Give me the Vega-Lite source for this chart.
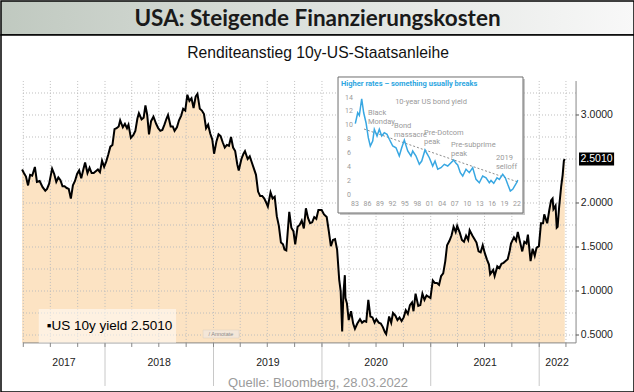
{
  "$schema": "https://vega.github.io/schema/vega-lite/v6.json",
  "padding": 0,
  "spacing": 0,
  "bounds": "flush",
  "background": "white",
  "config": {"view": {"stroke": null}, "font": "Liberation Sans"},
  "datasets": {
    "yield": [
      {"date":"2017-03-28","value":2.38},{"date":"2017-04-03","value":2.34},{"date":"2017-04-10","value":2.30},{"date":"2017-04-17","value":2.20},{"date":"2017-04-24","value":2.32},{"date":"2017-05-01","value":2.31},{"date":"2017-05-10","value":2.41},{"date":"2017-05-17","value":2.24},{"date":"2017-05-26","value":2.25},{"date":"2017-06-05","value":2.18},{"date":"2017-06-14","value":2.14},{"date":"2017-06-20","value":2.16},{"date":"2017-06-27","value":2.22},{"date":"2017-07-07","value":2.39},{"date":"2017-07-14","value":2.33},{"date":"2017-07-21","value":2.24},{"date":"2017-07-28","value":2.29},{"date":"2017-08-04","value":2.26},{"date":"2017-08-11","value":2.19},{"date":"2017-08-18","value":2.19},{"date":"2017-08-25","value":2.17},{"date":"2017-09-01","value":2.16},{"date":"2017-09-08","value":2.05},{"date":"2017-09-15","value":2.20},{"date":"2017-09-22","value":2.25},{"date":"2017-09-29","value":2.33},{"date":"2017-10-06","value":2.37},{"date":"2017-10-13","value":2.28},{"date":"2017-10-20","value":2.38},{"date":"2017-10-26","value":2.46},{"date":"2017-11-03","value":2.34},{"date":"2017-11-10","value":2.40},{"date":"2017-11-17","value":2.34},{"date":"2017-11-24","value":2.34},{"date":"2017-12-01","value":2.36},{"date":"2017-12-08","value":2.38},{"date":"2017-12-15","value":2.35},{"date":"2017-12-22","value":2.48},{"date":"2017-12-29","value":2.41},
      {"date":"2018-01-05","value":2.47},{"date":"2018-01-12","value":2.55},{"date":"2018-01-19","value":2.64},{"date":"2018-01-26","value":2.66},{"date":"2018-02-02","value":2.84},{"date":"2018-02-09","value":2.85},{"date":"2018-02-16","value":2.87},{"date":"2018-02-21","value":2.94},{"date":"2018-03-02","value":2.86},{"date":"2018-03-09","value":2.90},{"date":"2018-03-16","value":2.85},{"date":"2018-03-21","value":2.89},{"date":"2018-03-29","value":2.74},{"date":"2018-04-06","value":2.77},{"date":"2018-04-13","value":2.82},{"date":"2018-04-20","value":2.96},{"date":"2018-04-25","value":3.02},{"date":"2018-05-04","value":2.95},{"date":"2018-05-11","value":2.97},{"date":"2018-05-17","value":3.11},{"date":"2018-05-23","value":3.00},{"date":"2018-05-29","value":2.78},{"date":"2018-06-05","value":2.93},{"date":"2018-06-13","value":2.98},{"date":"2018-06-22","value":2.90},{"date":"2018-06-29","value":2.85},{"date":"2018-07-06","value":2.82},{"date":"2018-07-13","value":2.83},{"date":"2018-07-20","value":2.89},{"date":"2018-07-27","value":2.96},{"date":"2018-08-01","value":3.00},{"date":"2018-08-10","value":2.87},{"date":"2018-08-17","value":2.87},{"date":"2018-08-23","value":2.82},{"date":"2018-08-31","value":2.86},{"date":"2018-09-07","value":2.94},{"date":"2018-09-14","value":2.99},{"date":"2018-09-21","value":3.07},{"date":"2018-09-28","value":3.05},{"date":"2018-10-05","value":3.23},{"date":"2018-10-12","value":3.16},{"date":"2018-10-19","value":3.19},{"date":"2018-10-26","value":3.08},{"date":"2018-11-02","value":3.21},{"date":"2018-11-08","value":3.24},{"date":"2018-11-16","value":3.07},{"date":"2018-11-23","value":3.05},{"date":"2018-11-30","value":3.01},{"date":"2018-12-07","value":2.85},{"date":"2018-12-14","value":2.89},{"date":"2018-12-21","value":2.79},{"date":"2018-12-28","value":2.72},
      {"date":"2019-01-03","value":2.56},{"date":"2019-01-11","value":2.70},{"date":"2019-01-18","value":2.78},{"date":"2019-01-25","value":2.76},{"date":"2019-02-01","value":2.69},{"date":"2019-02-08","value":2.63},{"date":"2019-02-15","value":2.66},{"date":"2019-02-22","value":2.65},{"date":"2019-03-01","value":2.75},{"date":"2019-03-08","value":2.63},{"date":"2019-03-15","value":2.59},{"date":"2019-03-22","value":2.44},{"date":"2019-03-27","value":2.37},{"date":"2019-04-05","value":2.50},{"date":"2019-04-12","value":2.56},{"date":"2019-04-17","value":2.59},{"date":"2019-04-26","value":2.50},{"date":"2019-05-03","value":2.53},{"date":"2019-05-10","value":2.46},{"date":"2019-05-17","value":2.39},{"date":"2019-05-24","value":2.32},{"date":"2019-05-31","value":2.13},{"date":"2019-06-07","value":2.08},{"date":"2019-06-14","value":2.08},{"date":"2019-06-21","value":2.05},{"date":"2019-06-28","value":2.00},{"date":"2019-07-03","value":1.96},{"date":"2019-07-12","value":2.12},{"date":"2019-07-19","value":2.05},{"date":"2019-07-26","value":2.07},{"date":"2019-08-02","value":1.85},{"date":"2019-08-09","value":1.74},{"date":"2019-08-16","value":1.55},{"date":"2019-08-23","value":1.53},{"date":"2019-08-28","value":1.47},{"date":"2019-09-03","value":1.46},{"date":"2019-09-13","value":1.90},{"date":"2019-09-20","value":1.72},{"date":"2019-09-27","value":1.68},{"date":"2019-10-03","value":1.53},{"date":"2019-10-11","value":1.73},{"date":"2019-10-18","value":1.75},{"date":"2019-10-25","value":1.80},{"date":"2019-11-01","value":1.71},{"date":"2019-11-08","value":1.94},{"date":"2019-11-15","value":1.83},{"date":"2019-11-22","value":1.77},{"date":"2019-11-29","value":1.78},{"date":"2019-12-06","value":1.84},{"date":"2019-12-13","value":1.82},{"date":"2019-12-20","value":1.92},{"date":"2019-12-31","value":1.92},
      {"date":"2020-01-08","value":1.87},{"date":"2020-01-17","value":1.84},{"date":"2020-01-24","value":1.68},{"date":"2020-01-31","value":1.51},{"date":"2020-02-07","value":1.58},{"date":"2020-02-14","value":1.59},{"date":"2020-02-21","value":1.47},{"date":"2020-02-28","value":1.13},{"date":"2020-03-04","value":1.00},{"date":"2020-03-09","value":0.54},{"date":"2020-03-13","value":0.96},{"date":"2020-03-18","value":1.18},{"date":"2020-03-20","value":0.92},{"date":"2020-03-25","value":0.86},{"date":"2020-03-31","value":0.67},{"date":"2020-04-08","value":0.77},{"date":"2020-04-15","value":0.63},{"date":"2020-04-21","value":0.57},{"date":"2020-04-29","value":0.63},{"date":"2020-05-08","value":0.68},{"date":"2020-05-15","value":0.64},{"date":"2020-05-22","value":0.66},{"date":"2020-05-29","value":0.65},{"date":"2020-06-05","value":0.90},{"date":"2020-06-12","value":0.71},{"date":"2020-06-19","value":0.70},{"date":"2020-06-26","value":0.64},{"date":"2020-07-02","value":0.68},{"date":"2020-07-10","value":0.64},{"date":"2020-07-17","value":0.63},{"date":"2020-07-24","value":0.59},{"date":"2020-07-31","value":0.53},{"date":"2020-08-04","value":0.51},{"date":"2020-08-14","value":0.71},{"date":"2020-08-21","value":0.64},{"date":"2020-08-27","value":0.75},{"date":"2020-09-04","value":0.72},{"date":"2020-09-11","value":0.67},{"date":"2020-09-18","value":0.70},{"date":"2020-09-25","value":0.66},{"date":"2020-10-02","value":0.70},{"date":"2020-10-09","value":0.78},{"date":"2020-10-16","value":0.74},{"date":"2020-10-23","value":0.84},{"date":"2020-10-30","value":0.87},{"date":"2020-11-04","value":0.77},{"date":"2020-11-11","value":0.97},{"date":"2020-11-20","value":0.83},{"date":"2020-11-27","value":0.84},{"date":"2020-12-04","value":0.97},{"date":"2020-12-11","value":0.90},{"date":"2020-12-18","value":0.95},{"date":"2020-12-31","value":0.92},
      {"date":"2021-01-08","value":1.12},{"date":"2021-01-15","value":1.09},{"date":"2021-01-22","value":1.09},{"date":"2021-01-29","value":1.07},{"date":"2021-02-05","value":1.17},{"date":"2021-02-12","value":1.20},{"date":"2021-02-19","value":1.34},{"date":"2021-02-25","value":1.52},{"date":"2021-03-05","value":1.57},{"date":"2021-03-12","value":1.63},{"date":"2021-03-19","value":1.73},{"date":"2021-03-26","value":1.67},{"date":"2021-03-31","value":1.74},{"date":"2021-04-09","value":1.66},{"date":"2021-04-16","value":1.58},{"date":"2021-04-23","value":1.56},{"date":"2021-04-30","value":1.63},{"date":"2021-05-07","value":1.58},{"date":"2021-05-12","value":1.69},{"date":"2021-05-21","value":1.63},{"date":"2021-05-28","value":1.59},{"date":"2021-06-04","value":1.55},{"date":"2021-06-11","value":1.45},{"date":"2021-06-18","value":1.44},{"date":"2021-06-25","value":1.52},{"date":"2021-07-02","value":1.43},{"date":"2021-07-09","value":1.36},{"date":"2021-07-16","value":1.30},{"date":"2021-07-20","value":1.19},{"date":"2021-07-30","value":1.24},{"date":"2021-08-04","value":1.17},{"date":"2021-08-13","value":1.28},{"date":"2021-08-20","value":1.26},{"date":"2021-08-27","value":1.31},{"date":"2021-09-03","value":1.32},{"date":"2021-09-10","value":1.34},{"date":"2021-09-17","value":1.36},{"date":"2021-09-24","value":1.46},{"date":"2021-09-28","value":1.54},{"date":"2021-10-08","value":1.61},{"date":"2021-10-15","value":1.57},{"date":"2021-10-21","value":1.67},{"date":"2021-10-29","value":1.55},{"date":"2021-11-05","value":1.45},{"date":"2021-11-12","value":1.56},{"date":"2021-11-19","value":1.54},{"date":"2021-11-24","value":1.64},{"date":"2021-12-03","value":1.34},{"date":"2021-12-10","value":1.48},{"date":"2021-12-17","value":1.40},{"date":"2021-12-23","value":1.49},{"date":"2021-12-31","value":1.51},
      {"date":"2022-01-07","value":1.77},{"date":"2022-01-14","value":1.77},{"date":"2022-01-18","value":1.87},{"date":"2022-01-28","value":1.77},{"date":"2022-02-04","value":1.92},{"date":"2022-02-10","value":2.03},{"date":"2022-02-15","value":2.05},{"date":"2022-02-18","value":1.93},{"date":"2022-02-25","value":1.97},{"date":"2022-03-01","value":1.72},{"date":"2022-03-04","value":1.73},{"date":"2022-03-09","value":1.95},{"date":"2022-03-16","value":2.19},{"date":"2022-03-21","value":2.32},{"date":"2022-03-25","value":2.48},{"date":"2022-03-28","value":2.50}
    ],
    "quarters": [
      {"date":"2017-04-01"},{"date":"2017-07-01"},{"date":"2017-10-01"},{"date":"2018-01-01"},{"date":"2018-04-01"},{"date":"2018-07-01"},{"date":"2018-10-01"},{"date":"2019-01-01"},{"date":"2019-04-01"},{"date":"2019-07-01"},{"date":"2019-10-01"},{"date":"2020-01-01"},{"date":"2020-04-01"},{"date":"2020-07-01"},{"date":"2020-10-01"},{"date":"2021-01-01"},{"date":"2021-04-01"},{"date":"2021-07-01"},{"date":"2021-10-01"},{"date":"2022-01-01"},{"date":"2022-04-01"}
    ],
    "years": [{"date":"2018-01-01"},{"date":"2019-01-01"},{"date":"2020-01-01"},{"date":"2021-01-01"},{"date":"2022-01-01"}],
    "yearlabels": [{"date":"2017-08-16"},{"date":"2018-07-02"},{"date":"2019-07-03"},{"date":"2020-07-01"},{"date":"2021-07-03"},{"date":"2022-03-02"}],
    "levels": [{"level":0.5},{"level":0.75},{"level":1.0},{"level":1.25},{"level":1.5},{"level":1.75},{"level":2.0},{"level":2.25},{"level":2.5},{"level":2.75},{"level":3.0},{"level":3.25}],
    "yticks": [{"level":0.5},{"level":1.0},{"level":1.5},{"level":2.0},{"level":3.0}],
    "inset": [
      {"yr":1983.07,"v":10.22},{"yr":1983.65,"v":11.8},{"yr":1984.04,"v":11.43},{"yr":1984.61,"v":13.82},{"yr":1985.09,"v":11.8},{"yr":1985.65,"v":10.36},{"yr":1986.2,"v":8.2},{"yr":1986.68,"v":7.0},{"yr":1987.26,"v":7.72},{"yr":1987.65,"v":9.41},{"yr":1988.3,"v":8.44},{"yr":1988.85,"v":9.41},{"yr":1989.43,"v":8.44},{"yr":1990.05,"v":8.92},{"yr":1990.7,"v":8.69},{"yr":1991.26,"v":7.97},{"yr":1992.08,"v":7.0},{"yr":1992.87,"v":6.75},{"yr":1993.66,"v":5.56},{"yr":1994.24,"v":6.75},{"yr":1994.87,"v":7.86},{"yr":1995.69,"v":6.28},{"yr":1996.48,"v":5.56},{"yr":1996.89,"v":6.28},{"yr":1997.68,"v":5.56},{"yr":1998.48,"v":4.36},{"yr":1999.06,"v":4.83},{"yr":1999.85,"v":6.42},{"yr":2000.89,"v":5.31},{"yr":2001.7,"v":4.11},{"yr":2002.26,"v":4.83},{"yr":2002.91,"v":3.64},{"yr":2003.7,"v":3.87},{"yr":2004.5,"v":4.36},{"yr":2005.32,"v":4.11},{"yr":2006.11,"v":4.59},{"yr":2006.76,"v":4.98},{"yr":2007.31,"v":4.5},{"yr":2007.72,"v":4.26},{"yr":2008.35,"v":3.15},{"yr":2008.93,"v":2.67},{"yr":2009.72,"v":3.64},{"yr":2010.52,"v":3.15},{"yr":2011.33,"v":3.87},{"yr":2012.13,"v":2.19},{"yr":2012.92,"v":1.7},{"yr":2013.74,"v":2.67},{"yr":2014.54,"v":2.42},{"yr":2015.33,"v":1.7},{"yr":2015.74,"v":2.02},{"yr":2016.39,"v":1.62},{"yr":2017.18,"v":2.42},{"yr":2017.74,"v":2.19},{"yr":2018.56,"v":2.91},{"yr":2019.18,"v":2.42},{"yr":2019.76,"v":1.47},{"yr":2020.39,"v":0.51},{"yr":2020.96,"v":0.75},{"yr":2021.52,"v":1.33},{"yr":2022.0,"v":1.8},{"yr":2022.17,"v":2.09}
    ],
    "trend": [{"yr":1985.17,"v":9.45},{"yr":2022.24,"v":1.8}],
    "notes": [
      {"yr":1986.13,"v":11.76,"label":"Black\nMonday"},
      {"yr":1992.39,"v":9.88,"label":"Bond\nmassacre"},
      {"yr":1999.61,"v":8.87,"label":"Pre-Dotcom\npeak"},
      {"yr":2006.11,"v":7.14,"label":"Pre-subprime\npeak"},
      {"yr":2016.94,"v":5.27,"label":"2019\nselloff"}
    ],
    "iy": [{"v":0},{"v":2},{"v":4},{"v":6},{"v":8},{"v":10},{"v":12},{"v":14}],
    "ix": [{"yr":1983,"label":"83"},{"yr":1986,"label":"86"},{"yr":1989,"label":"89"},{"yr":1992,"label":"92"},{"yr":1995,"label":"95"},{"yr":1998,"label":"98"},{"yr":2001,"label":"01"},{"yr":2004,"label":"04"},{"yr":2007,"label":"07"},{"yr":2010,"label":"10"},{"yr":2013,"label":"13"},{"yr":2016,"label":"16"},{"yr":2019,"label":"19"},{"yr":2022,"label":"22"}]
  },
  "vconcat": [
    {
      "width": 633,
      "height": 34,
      "layer": [
        {
          "data": {"values": [{}]},
          "mark": {"type": "rect", "fill": {"gradient": "linear", "stops": [{"offset": 0, "color": "#c0c9c0"}, {"offset": 0.5, "color": "#dde1dd"}, {"offset": 1, "color": "#f8f8f8"}]}, "stroke": "#000", "strokeWidth": 1.5},
          "encoding": {}
        },
        {
          "data": {"values": [{"t": "USA: Steigende Finanzierungskosten"}]},
          "mark": {"type": "text", "font": "Lato", "fontWeight": "bold", "fontSize": 22.5, "color": "#1a1a1a", "dy": 1},
          "encoding": {"text": {"field": "t"}}
        }
      ]
    },
    {
      "width": 633,
      "height": 357,
      "view": {"stroke": "#000", "strokeWidth": 1.5, "fill": "white"},
      "resolve": {"scale": {"x": "independent", "y": "independent"}},
      "layer": [
        {
          "layer": [
            {
              "data": {"name": "yield"},
              "mark": {"type": "area", "color": "#fce3c3", "opacity": 1},
              "encoding": {
                "x": {"field": "date", "type": "temporal",
                  "scale": {"domain": [{"year": 2017, "month": 1, "date": 16}, {"year": 2022, "month": 11, "date": 16}], "nice": false},
                  "axis": null},
                "y": {"field": "value", "type": "quantitative",
                  "scale": {"domain": [-0.1477, 3.909], "nice": false, "zero": false},
                  "axis": null},
                "y2": {"datum": 0.41}
              }
            },
            {
              "data": {"name": "quarters"},
              "mark": {"type": "rule", "color": "#bdbdbd", "strokeDash": [1, 2], "strokeWidth": 1},
              "encoding": {"x": {"field": "date", "type": "temporal", "axis": null}, "y": {"datum": 0.41, "type": "quantitative", "axis": null}, "y2": {"datum": 3.386}}
            },
            {
              "data": {"name": "levels"},
              "mark": {"type": "rule", "color": "#bdbdbd", "strokeDash": [1, 2], "strokeWidth": 1},
              "encoding": {"y": {"field": "level", "type": "quantitative", "axis": null}, "x": {"datum": {"year": 2017, "month": 3, "date": 31}, "type": "temporal", "axis": null}, "x2": {"datum": {"year": 2022, "month": 5, "date": 5}}}
            },
            {
              "data": {"name": "yield"},
              "mark": {"type": "line", "color": "#000", "strokeWidth": 2},
              "encoding": {"x": {"field": "date", "type": "temporal", "axis": null}, "y": {"field": "value", "type": "quantitative", "axis": null}}
            },
            {
              "data": {"values": [{}]},
              "mark": {"type": "rule", "color": "#888", "strokeWidth": 1},
              "encoding": {"x": {"datum": {"year": 2022, "month": 5, "date": 5}, "type": "temporal", "axis": null}, "y": {"datum": 0.41, "type": "quantitative", "axis": null}, "y2": {"datum": 3.386}}
            },
            {
              "data": {"values": [{}]},
              "mark": {"type": "rule", "color": "#888", "strokeWidth": 1},
              "encoding": {"y": {"datum": 0.41, "type": "quantitative", "axis": null}, "x": {"datum": {"year": 2017, "month": 3, "date": 31}, "type": "temporal", "axis": null}, "x2": {"datum": {"year": 2022, "month": 5, "date": 5}}}
            },
            {
              "data": {"name": "yticks"},
              "mark": {"type": "rule", "color": "#555", "strokeWidth": 1},
              "encoding": {"y": {"field": "level", "type": "quantitative", "axis": null}, "x": {"datum": {"year": 2022, "month": 5, "date": 5}, "type": "temporal", "axis": null}, "x2": {"datum": {"year": 2022, "month": 5, "date": 15}}}
            },
            {
              "data": {"name": "yticks"},
              "mark": {"type": "text", "align": "left", "baseline": "middle", "fontSize": 10.5, "color": "#222"},
              "encoding": {"y": {"field": "level", "type": "quantitative", "axis": null}, "x": {"datum": {"year": 2022, "month": 5, "date": 21}, "type": "temporal", "axis": null}, "text": {"field": "level", "type": "quantitative", "format": ".4f"}}
            },
            {
              "data": {"name": "years"},
              "mark": {"type": "rule", "color": "#c8c8c8", "strokeWidth": 1},
              "encoding": {"x": {"field": "date", "type": "temporal", "axis": null}, "y": {"datum": 0.41, "type": "quantitative", "axis": null}, "y2": {"datum": -0.0795}}
            },
            {
              "data": {"name": "quarters"},
              "mark": {"type": "rule", "color": "#888", "strokeWidth": 1},
              "encoding": {"x": {"field": "date", "type": "temporal", "axis": null}, "y": {"datum": 0.41, "type": "quantitative", "axis": null}, "y2": {"datum": 0.364}}
            },
            {
              "data": {"name": "yearlabels"},
              "mark": {"type": "text", "baseline": "middle", "fontSize": 10.5, "color": "#222"},
              "encoding": {"x": {"field": "date", "type": "temporal", "axis": null}, "y": {"datum": 0.182, "type": "quantitative", "axis": null}, "text": {"field": "date", "type": "temporal", "format": "%Y"}}
            },
            {
              "data": {"values": [{"label": "Quelle: Bloomberg, 28.03.2022"}]},
              "mark": {"type": "text", "baseline": "middle", "fontSize": 13, "color": "#9b9b9b"},
              "encoding": {"x": {"datum": {"year": 2019, "month": 12, "date": 19}, "type": "temporal", "axis": null}, "y": {"datum": -0.0455, "type": "quantitative", "axis": null}, "text": {"field": "label"}}
            },
            {
              "data": {"values": [{}]},
              "mark": {"type": "rect", "color": "#ffffff", "opacity": 0.5},
              "encoding": {"x": {"datum": {"year": 2017, "month": 5, "date": 23}, "type": "temporal", "axis": null}, "x2": {"datum": {"year": 2018, "month": 8, "date": 28}}, "y": {"datum": 0.41, "type": "quantitative", "axis": null}, "y2": {"datum": 0.795}}
            },
            {
              "data": {"values": [{"label": "▪US 10y yield 2.5010"}]},
              "mark": {"type": "text", "align": "left", "baseline": "middle", "fontSize": 13.5, "color": "#000"},
              "encoding": {"x": {"datum": {"year": 2017, "month": 6, "date": 19}, "type": "temporal", "axis": null}, "y": {"datum": 0.602, "type": "quantitative", "axis": null}, "text": {"field": "label"}}
            },
            {
              "data": {"values": [{}]},
              "mark": {"type": "rect", "color": "#f3e6d8", "stroke": "#ddd0c0", "strokeWidth": 0.5},
              "encoding": {"x": {"datum": {"year": 2018, "month": 11, "date": 27}, "type": "temporal", "axis": null}, "x2": {"datum": {"year": 2019, "month": 3, "date": 28}}, "y": {"datum": 0.466, "type": "quantitative", "axis": null}, "y2": {"datum": 0.557}}
            },
            {
              "data": {"values": [{"label": "/ Annotate"}]},
              "mark": {"type": "text", "baseline": "middle", "fontSize": 5.5, "color": "#8a8a8a"},
              "encoding": {"x": {"datum": {"year": 2019, "month": 1, "date": 26}, "type": "temporal", "axis": null}, "y": {"datum": 0.511, "type": "quantitative", "axis": null}, "text": {"field": "label"}}
            },
            {
              "data": {"values": [{"label": "Renditeanstieg 10y-US-Staatsanleihe"}]},
              "mark": {"type": "text", "baseline": "middle", "fontSize": 15.7, "color": "#111"},
              "encoding": {"x": {"datum": {"year": 2019, "month": 12, "date": 19}, "type": "temporal", "axis": null}, "y": {"datum": 3.705, "type": "quantitative", "axis": null}, "text": {"field": "label"}}
            },
            {
              "data": {"values": [{"value": 2.501, "label": "2.5010"}]},
              "mark": {"type": "point", "shape": "M-2.7,-1H2.7V1H-2.7Z", "size": 169, "filled": true, "color": "#000", "opacity": 1},
              "encoding": {"x": {"datum": {"year": 2022, "month": 7, "date": 13}, "type": "temporal", "axis": null}, "y": {"field": "value", "type": "quantitative", "axis": null}}
            },
            {
              "data": {"values": [{"value": 2.501, "label": "2.5010"}]},
              "mark": {"type": "text", "baseline": "middle", "fontSize": 10.5, "color": "#fff"},
              "encoding": {"x": {"datum": {"year": 2022, "month": 7, "date": 13}, "type": "temporal", "axis": null}, "y": {"field": "value", "type": "quantitative", "axis": null}, "text": {"field": "label"}}
            }
          ]
        },
        {
          "layer": [
            {
              "data": {"values": [{}]},
              "mark": {"type": "rect", "color": "#9a9a9a", "opacity": 0.55},
              "encoding": {"x": {"datum": 1979.39, "type": "quantitative", "scale": {"domain": [1897.78, 2050.16], "nice": false, "zero": false}, "axis": null}, "x2": {"datum": 2023.92}, "y": {"datum": -2.96, "type": "quantitative", "scale": {"domain": [-28.5, 23.02], "nice": false, "zero": false}, "axis": null}, "y2": {"datum": 16.67}}
            },
            {
              "data": {"values": [{}]},
              "mark": {"type": "rect", "color": "#ffffff", "stroke": "#6e6e6e", "strokeWidth": 1},
              "encoding": {"x": {"datum": 1978.91, "type": "quantitative", "axis": null}, "x2": {"datum": 2023.44}, "y": {"datum": -2.67, "type": "quantitative", "axis": null}, "y2": {"datum": 16.96}}
            },
            {
              "data": {"values": [{"label": "Higher rates – something usually breaks"}]},
              "mark": {"type": "text", "align": "left", "baseline": "middle", "font": "Roboto", "fontWeight": "bold", "fontSize": 7.5, "color": "#2ea6df"},
              "encoding": {"x": {"datum": 1979.63, "type": "quantitative", "axis": null}, "y": {"datum": 15.94, "type": "quantitative", "axis": null}, "text": {"field": "label"}}
            },
            {
              "data": {"values": [{"label": "10-year US bond yield"}]},
              "mark": {"type": "text", "baseline": "middle", "font": "Roboto", "fontSize": 7.5, "color": "#9a9a9a"},
              "encoding": {"x": {"datum": 2001.3, "type": "quantitative", "axis": null}, "y": {"datum": 13.35, "type": "quantitative", "axis": null}, "text": {"field": "label"}}
            },
            {
              "data": {"name": "notes"},
              "mark": {"type": "text", "align": "left", "baseline": "middle", "font": "Roboto", "fontSize": 7.5, "color": "#9a9a9a", "lineBreak": "\n", "lineHeight": 9},
              "encoding": {"x": {"field": "yr", "type": "quantitative", "axis": null}, "y": {"field": "v", "type": "quantitative", "axis": null}, "text": {"field": "label"}}
            },
            {
              "data": {"name": "iy"},
              "mark": {"type": "text", "baseline": "middle", "font": "Roboto", "fontSize": 7, "color": "#9a9a9a"},
              "encoding": {"x": {"datum": 1981.56, "type": "quantitative", "axis": null}, "y": {"field": "v", "type": "quantitative", "axis": null}, "text": {"field": "v", "type": "quantitative"}}
            },
            {
              "data": {"name": "ix"},
              "mark": {"type": "text", "baseline": "middle", "font": "Roboto", "fontSize": 7, "color": "#9a9a9a"},
              "encoding": {"x": {"field": "yr", "type": "quantitative", "axis": null}, "y": {"datum": -1.37, "type": "quantitative", "axis": null}, "text": {"field": "label"}}
            },
            {
              "data": {"name": "trend"},
              "mark": {"type": "line", "color": "#8c8c8c", "strokeDash": [2, 2], "strokeWidth": 1},
              "encoding": {"x": {"field": "yr", "type": "quantitative", "axis": null}, "y": {"field": "v", "type": "quantitative", "axis": null}}
            },
            {
              "data": {"name": "inset"},
              "mark": {"type": "line", "color": "#38a7e2", "strokeWidth": 1.5},
              "encoding": {"x": {"field": "yr", "type": "quantitative", "axis": null}, "y": {"field": "v", "type": "quantitative", "axis": null}}
            }
          ]
        }
      ]
    }
  ]
}
